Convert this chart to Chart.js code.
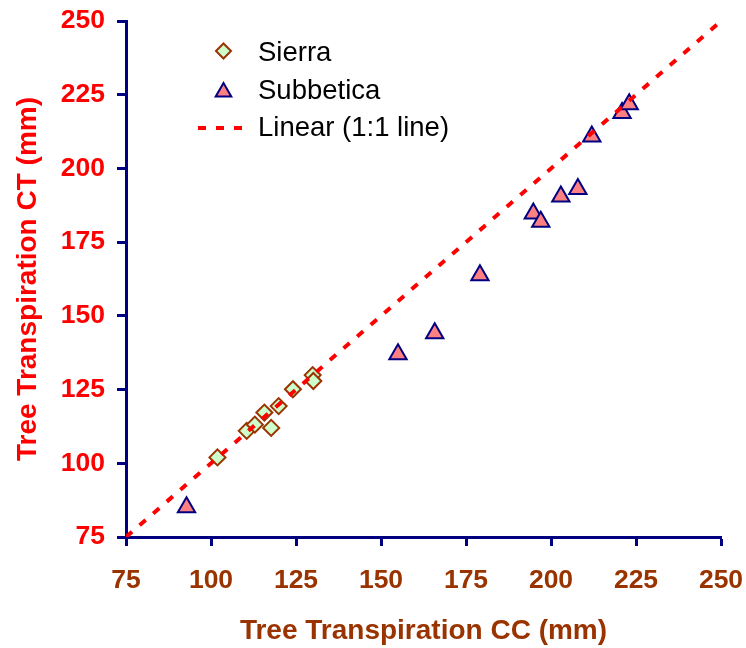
<!DOCTYPE html>
<html>
<head>
<meta charset="utf-8">
<script src="https://cdn.jsdelivr.net/npm/chart.js@4/dist/chart.umd.min.js"></script>
<style>
  html, body { margin: 0; padding: 0; background: #fff; }
  #wrap { width: 746px; height: 648px; }
</style>
</head>
<body>
<div id="wrap"><canvas id="chart"></canvas></div>
<script>
// Tree transpiration, CC (x) vs CT (y), mm
const sierraCC = [101.9, 110.5, 112.9, 115.7, 117.7, 119.9, 124.1, 129.9, 130.1];
const sierraCT = [102.0, 111.0, 113.1, 117.2, 112.0, 119.4, 125.1, 129.9, 127.9];
const subbeticaCC = [92.8, 155.0, 165.8, 179.1, 194.8, 197.0, 202.9, 207.9, 212.0, 220.9, 223.0];
const subbeticaCT = [85.1, 137.0, 144.1, 163.8, 184.7, 181.9, 190.5, 193.0, 210.8, 218.8, 221.8];
const oneToOne = [75, 250];
const axisTicks = [75, 100, 125, 150, 175, 200, 225, 250];

const NAVY = "#000080";
const BROWN = "#993300";
const RED = "#FF0000";

const toPoints = (xs, ys) => xs.map((x, i) => ({ x: x, y: ys[i] }));

// legend drawn inside the plot, top left, like the original
const insideLegend = {
  id: "insideLegend",
  afterDraw(chart) {
    const ctx = chart.ctx;
    const markY = [51, 92, 128];
    const textY = [60.5, 98.5, 136];
    const markR = [7.5, 9];
    ctx.save();
    chart.data.datasets.forEach((ds, i) => {
      const y = markY[i];
      if (ds.type === "line") {
        ctx.strokeStyle = ds.borderColor;
        ctx.lineWidth = ds.borderWidth;
        ctx.setLineDash(ds.borderDash);
        ctx.beginPath();
        ctx.moveTo(198, y);
        ctx.lineTo(252, y);
        ctx.stroke();
        ctx.setLineDash([]);
      } else {
        ctx.fillStyle = ds.backgroundColor;
        ctx.strokeStyle = ds.borderColor;
        ctx.lineWidth = ds.borderWidth;
        Chart.helpers.drawPoint(ctx, {
          pointStyle: ds.pointStyle,
          radius: markR[i],
          rotation: 0,
          borderWidth: ds.borderWidth
        }, 223.5, y);
      }
      ctx.fillStyle = "#000";
      ctx.font = "27.5px 'Liberation Sans', Arial, sans-serif";
      ctx.textBaseline = "alphabetic";
      ctx.textAlign = "left";
      ctx.fillText(ds.label, 258, textY[i]);
    });
    ctx.restore();
  }
};

function axisOpts(color, title, isX) {
  return {
    type: "linear",
    min: 75,
    max: 250,
    afterBuildTicks: (scale) => {
      scale.ticks = axisTicks.map(v => ({ value: v }));
    },
    afterFit: (scale) => {
      if (isX) scale.height = 111;
      else scale.width = 126;
      // labels may overhang the plot edges, keep the plot box fixed
      scale.paddingTop = 0;
      scale.paddingBottom = 0;
      scale.paddingLeft = 0;
      scale.paddingRight = 0;
    },
    border: { display: true, color: NAVY, width: 3 },
    grid: {
      drawOnChartArea: false,
      drawTicks: true,
      tickLength: 9,
      tickWidth: 3,
      tickColor: NAVY
    },
    ticks: {
      color: color,
      padding: isX ? 19 : 12,
      font: { family: "'Liberation Sans', Arial, sans-serif", size: 26.5, weight: "bold" }
    },
    title: {
      display: true,
      text: title,
      color: color,
      padding: isX ? { top: 4, bottom: 0 } : { top: 11, bottom: 2 },
      font: { family: "'Liberation Sans', Arial, sans-serif", size: 28, weight: "bold" }
    }
  };
}

new Chart(document.getElementById("chart"), {
  type: "scatter",
  data: {
    datasets: [
      {
        label: "Sierra",
        data: toPoints(sierraCC, sierraCT),
        pointStyle: "rectRot",
        pointRadius: 8,
        backgroundColor: "#CCFFCC",
        borderColor: BROWN,
        borderWidth: 2,
        order: 2
      },
      {
        label: "Subbetica",
        data: toPoints(subbeticaCC, subbeticaCT),
        pointStyle: "triangle",
        pointRadius: 10,
        backgroundColor: "#FF8080",
        borderColor: NAVY,
        borderWidth: 2,
        order: 1
      },
      {
        type: "line",
        label: "Linear (1:1 line)",
        data: toPoints(oneToOne, oneToOne),
        borderColor: RED,
        borderWidth: 4,
        borderDash: [8, 10],
        pointRadius: 0,
        fill: false,
        order: 0
      }
    ]
  },
  options: {
    responsive: true,
    maintainAspectRatio: false,
    animation: false,
    layout: { padding: { top: 21, right: 25, left: 0, bottom: 0 } },
    plugins: {
      legend: { display: false },
      tooltip: { enabled: false }
    },
    scales: {
      x: axisOpts(BROWN, "Tree Transpiration CC (mm)", true),
      y: axisOpts(RED, "Tree Transpiration CT (mm)", false)
    }
  },
  plugins: [insideLegend]
});
</script>
</body>
</html>
